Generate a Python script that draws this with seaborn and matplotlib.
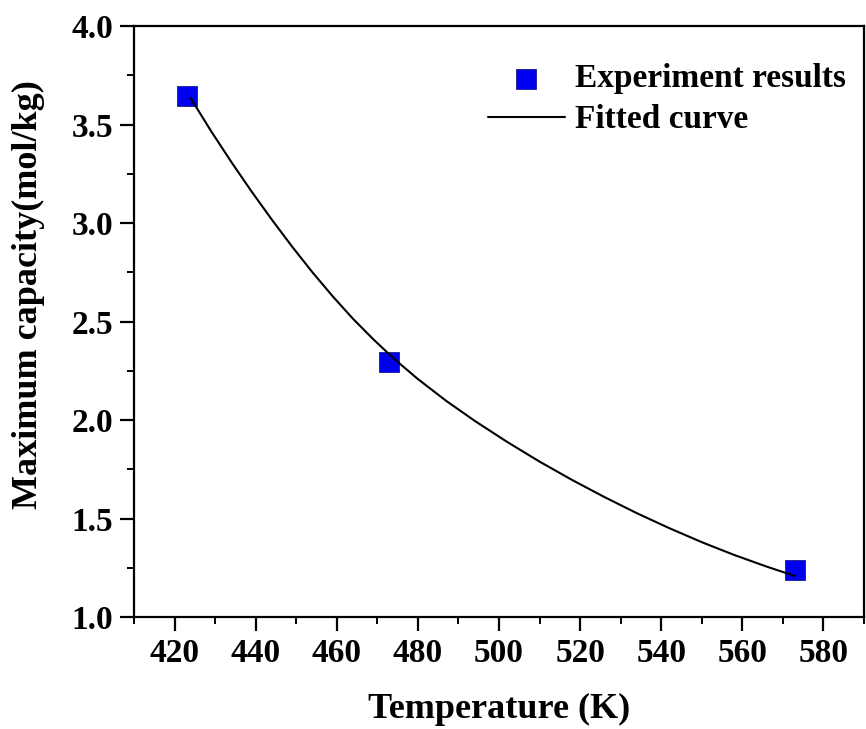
import matplotlib
matplotlib.use("Agg")
import matplotlib.pyplot as plt
import seaborn as sns
import pandas as pd
from matplotlib.ticker import MultipleLocator

exp_temp = [423, 473, 573]
exp_capacity = [3.645, 2.294, 1.239]

# Fitted curve samples
fit_temp = [424, 429, 434, 439, 444, 449, 454, 459, 464, 469, 474, 480, 487, 494,
            502, 510, 518, 526, 534, 542, 550, 558, 566, 573]
fit_capacity = [3.633, 3.467, 3.310, 3.160, 3.017, 2.880, 2.750, 2.628, 2.514, 2.410,
                2.313, 2.208, 2.097, 1.996, 1.889, 1.789, 1.696, 1.609, 1.527, 1.451,
                1.380, 1.315, 1.256, 1.208]

x_ticks = [420, 440, 460, 480, 500, 520, 540, 560, 580]
y_ticks = [1.0, 1.5, 2.0, 2.5, 3.0, 3.5, 4.0]

sns.set_style("ticks")
plt.rcParams['font.family'] = ['Liberation Serif', 'DejaVu Serif']
plt.rcParams['font.weight'] = 'bold'
plt.rcParams['text.color'] = 'black'
plt.rcParams['axes.labelcolor'] = 'black'
plt.rcParams['xtick.color'] = 'black'
plt.rcParams['ytick.color'] = 'black'
plt.rcParams['axes.edgecolor'] = 'black'

fig = plt.figure(figsize=(8.66, 7.29), dpi=100)
ax = fig.add_axes([0.1547, 0.1536, 0.843, 0.8107])

df_exp = pd.DataFrame({"T": exp_temp, "C": exp_capacity})
df_fit = pd.DataFrame({"T": fit_temp, "C": fit_capacity})

sns.scatterplot(data=df_exp, x="T", y="C", marker="s", s=210, color="#0000F0",
                edgecolor="#1a1a8a", linewidth=0.6, label="Experiment results", ax=ax, zorder=2)
sns.lineplot(data=df_fit, x="T", y="C", color="black", linewidth=1.5,
             label="Fitted curve", ax=ax, zorder=3, sort=False)

ax.set_xlim(410, 590)
ax.set_ylim(1.0, 4.0)
ax.set_xticks(x_ticks)
ax.set_yticks(y_ticks)
ax.set_yticklabels([f"{v:.1f}" for v in y_ticks])
ax.xaxis.set_minor_locator(MultipleLocator(10))
ax.yaxis.set_minor_locator(MultipleLocator(0.25))

ax.tick_params(which='major', direction='out', length=10, width=1.6, labelsize=24, pad=5,
               top=False, right=False, colors='black')
ax.tick_params(which='minor', direction='out', length=5, width=1.4, top=False, right=False,
               colors='black')
for lab in ax.get_xticklabels() + ax.get_yticklabels():
    lab.set_fontweight('bold')

for sp in ax.spines.values():
    sp.set_linewidth(1.6)
    sp.set_color('black')
    sp.set_visible(True)

ax.set_xlabel("Temperature (K)", fontsize=26, fontweight='bold', color='black')
ax.set_ylabel("Maximum capacity(mol/kg)", fontsize=26, fontweight='bold', color='black')
ax.xaxis.set_label_coords(0.5, -0.128)
ax.yaxis.set_label_coords(-0.122, 0.545)

leg = ax.legend(loc='upper right', bbox_to_anchor=(1.0, 0.968), frameon=False, fontsize=24,
                handlelength=2.3, handletextpad=0.3, labelspacing=0.3, borderaxespad=0.15)
for t in leg.get_texts():
    t.set_fontweight('bold')
    t.set_color('black')

fig.savefig("out.png", dpi=100)
